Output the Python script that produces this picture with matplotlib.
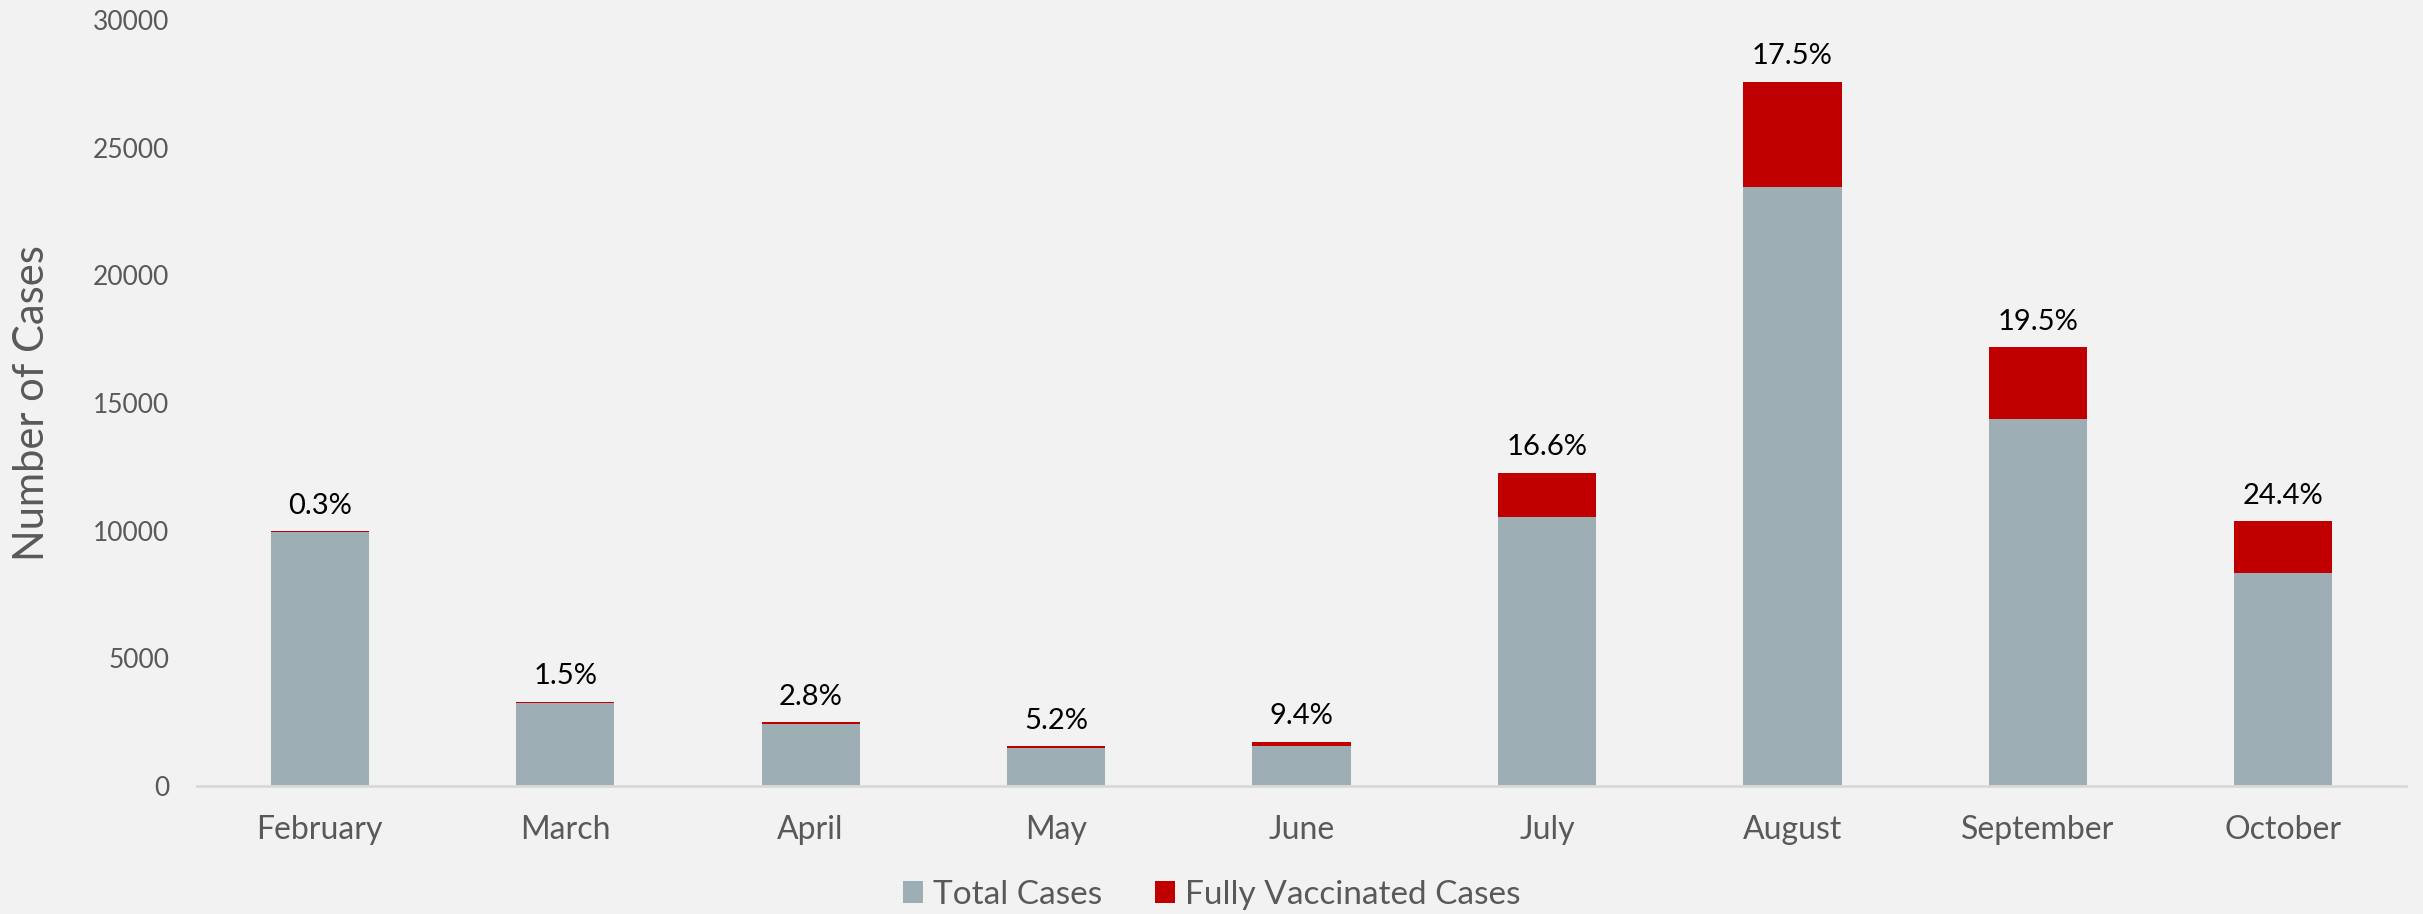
import matplotlib
matplotlib.use("Agg")
import matplotlib.pyplot as plt
import numpy as np

months = ["February", "March", "April", "May", "June",
          "July", "August", "September", "October"]
total_cases = [9950, 3260, 2430, 1490, 1580, 10520, 23470, 14390, 8340]
pct_vaccinated = [0.3, 1.5, 2.8, 5.2, 9.4, 16.6, 17.5, 19.5, 24.4]
yticks = [0, 5000, 10000, 15000, 20000, 25000, 30000]

vaccinated = [t * p / 100 for t, p in zip(total_cases, pct_vaccinated)]

BG = "#F2F2F2"
GREY = "#9DAFB4"
RED = "#C00000"
TXT = "#595959"

plt.rcParams["font.family"] = ["Lato", "DejaVu Sans"]

fig = plt.figure(figsize=(24.23, 9.14), dpi=100, facecolor=BG)
ax = fig.add_axes([0.0813, 0.140, 0.9117, 0.838], facecolor=BG)

x = np.arange(len(months))
width = 0.40
ax.bar(x, total_cases, width, color=GREY, label="Total Cases")
ax.bar(x, vaccinated, width, bottom=total_cases, color=RED,
       label="Fully Vaccinated Cases")

for xi, t, v, p in zip(x, total_cases, vaccinated, pct_vaccinated):
    ax.annotate(f"{p:.1f}%", (xi, t + v), xytext=(0, 9),
                textcoords="offset points", ha="center", va="bottom",
                fontsize=21, color="black")

ax.set_xlim(-0.5, len(months) - 0.5)
ax.set_ylim(0, 30000)
ax.set_yticks(yticks)
ax.set_yticklabels([str(v) for v in yticks])
ax.set_xticks(x)
ax.set_xticklabels(months)
ax.tick_params(axis="both", length=0, colors=TXT)
ax.tick_params(axis="y", labelsize=19, pad=20)
ax.tick_params(axis="x", labelsize=23, pad=21)

for s in ["top", "right", "left"]:
    ax.spines[s].set_visible(False)
ax.spines["bottom"].set_color("#D9D9D9")
ax.spines["bottom"].set_linewidth(2)

ax.set_ylabel("Number of Cases", fontsize=30, color=TXT)
ax.yaxis.set_label_coords(-0.066, 0.5)

fig.legend(loc="center", bbox_to_anchor=(0.5, 0.021), ncol=2,
           frameon=False, fontsize=24, labelcolor=TXT,
           handlelength=0.6, handleheight=0.6, handletextpad=0.3,
           columnspacing=1.6)

fig.savefig("out.png", dpi=100, facecolor=BG)
